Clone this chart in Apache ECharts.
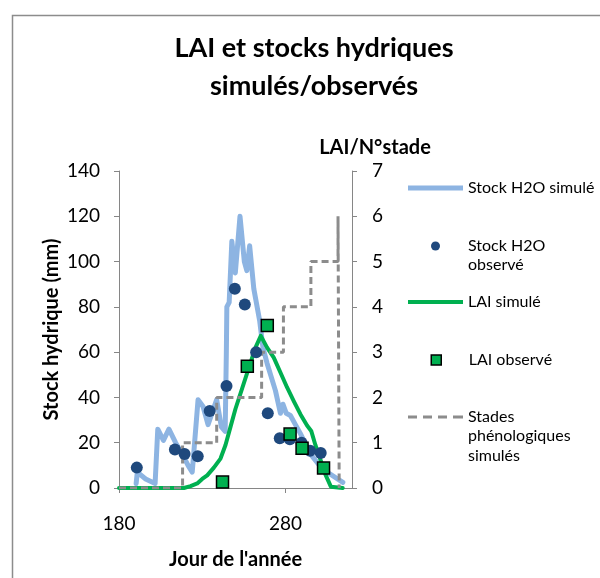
<!DOCTYPE html>
<html>
<head>
<meta charset="utf-8">
<script src="https://cdn.jsdelivr.net/npm/echarts@6/dist/echarts.min.js"></script>
<style>
html,body{margin:0;padding:0;background:#fff;}
#chart{width:600px;height:578px;}
</style>
</head>
<body>
<div id="chart"></div>
<script>
// ---- Data ----
const xTickLabels = [180, 280];
const leftTicks = [0, 20, 40, 60, 80, 100, 120, 140];
const rightTicks = [0, 1, 2, 3, 4, 5, 6, 7];

// Stock H2O simulé (mm)
const stockSimDays = [190.3, 191, 196, 201.7, 203.3, 206.7, 210, 214, 218, 221.5, 224, 227.5, 230.5, 233.5, 238.7, 241.5, 243.8, 244.5, 244.8, 246.2, 247.8, 249.9, 252.7, 255.3, 256.8, 258.5, 261, 264.5, 266.5, 269, 274, 277, 278.5, 280.5, 283, 286, 289, 295, 302, 314.5];
const stockSimValues = [2, 7, 4, 2, 26, 21, 26, 20, 15, 10, 7, 39, 36, 28, 39, 27, 25, 60, 80, 82, 109, 95, 120, 100, 96, 107, 88, 74, 62, 55, 43, 33, 37, 33, 32, 28, 24, 15, 8.5, 2.5];

// Stock H2O observé (mm)
const stockObsDays = [190.7, 213.6, 219.4, 227.3, 234.5, 244.6, 249.6, 255.6, 262.4, 269.4, 276.6, 282.7, 289.7, 294.8, 301.2];
const stockObsValues = [9, 17, 15, 14, 34, 45, 88, 81, 60, 33, 22, 21.5, 20, 16.5, 15.5];

// LAI simulé
const laiSimDays = [180, 219, 223, 227, 230, 233, 237, 241, 244, 247, 250, 254, 258, 262, 265.2, 269, 273, 277, 281, 285, 289, 293, 295.5, 298, 301.3, 304, 307.3, 314.4];
const laiSimValues = [0, 0, 0.04, 0.1, 0.2, 0.28, 0.45, 0.65, 0.95, 1.35, 1.75, 2.2, 2.65, 3.1, 3.36, 3.1, 2.88, 2.55, 2.22, 1.92, 1.63, 1.38, 1.26, 0.95, 0.6, 0.3, 0.03, 0];

// LAI observé
const laiObsDays = [242.2, 257.1, 269.1, 282.8, 290, 302.9];
const laiObsValues = [0.13, 2.69, 3.59, 1.19, 0.88, 0.44];

// Stades phénologiques simulés
const stadesDays = [180, 218.2, 218.2, 238.7, 238.7, 265.7, 265.7, 278.8, 278.8, 295.3, 295.3, 311.6, 311.6, 312.3];
const stadesValues = [0, 0, 1, 1, 2, 2, 3, 3, 4, 4, 5, 5, 6, 0];

const names = ['Stock H2O simulé', 'Stock H2O observé', 'LAI simulé', 'LAI observé', 'Stades phénologiques simulés'];

function pairs(xs, ys) { return xs.map((x, i) => [x, ys[i]]); }

const FONT = 'Lato';
const axisColor = '#868686';

const chart = echarts.init(document.getElementById('chart'), null, {renderer: 'canvas'});

function legendBlock(name, left, top, itemHeight, icon, firstLine, itemStyle) {
  return {
    show: true,
    orient: 'vertical',
    left: left,
    top: top,
    padding: 0,
    itemWidth: 55,
    itemHeight: itemHeight,
    itemGap: 0,
    data: [{name: name, icon: icon, itemStyle: itemStyle}],
    formatter: function () { return firstLine; },
    textStyle: {fontFamily: FONT, fontSize: 16, color: '#000', lineHeight: 20}
  };
}

const option = {
  animation: false,
  backgroundColor: '#fff',
  title: {
    text: 'LAI et stocks hydriques\nsimulés/observés',
    left: 309,
    top: 24,
    textAlign: 'center',
    textStyle: {fontFamily: FONT, fontSize: 27, fontWeight: 'bold', color: '#000', lineHeight: 38}
  },
  legend: [
    legendBlock(names[0], 408, 178, 5, 'path://M0,0h55v5h-55z', 'Stock H2O simulé', {color: '#8DB4E2', borderWidth: 0}),
    legendBlock(names[1], 431, 236, 9, 'path://M5,0A5,5,0,1,1,5,10A5,5,0,1,1,5,0z', 'Stock H2O', {color: '#1F497D', borderWidth: 0}),
    legendBlock(names[2], 408, 292, 4, 'path://M0,0h55v4h-55z', 'LAI simulé', {color: '#00B050', borderWidth: 0}),
    legendBlock(names[3], 430.5, 350, 10, 'path://M0,0h10v10h-10z', 'LAI observé', {color: '#00B050', borderColor: '#000', borderWidth: 1.5}),
    legendBlock(names[4], 408, 407, 3, 'path://M0,0h9v3h-9z M15,0h9v3h-9z M30,0h9v3h-9z M45,0h10v3h-10z', 'Stades', {color: '#8C8C8C', borderWidth: 0})
  ],
  graphic: [
    {type: 'rect', left: 10, top: 13, shape: {width: 700, height: 700}, style: {fill: 'none', stroke: '#8c8c8c', lineWidth: 1.5}, silent: true},
    {type: 'text', left: 468, top: 257, style: {text: 'observé', font: '16px Lato', fill: '#000'}},
    {type: 'text', left: 468, top: 428, style: {text: 'phénologiques', font: '16px Lato', fill: '#000'}},
    {type: 'text', left: 468, top: 448, style: {text: 'simulés', font: '16px Lato', fill: '#000'}}
  ],
  grid: {left: 119, right: 248, top: 171, bottom: 90, containLabel: false},
  xAxis: {
    type: 'value',
    min: 180,
    max: 320,
    name: 'Jour de l\'année',
    nameLocation: 'middle',
    nameGap: 62,
    nameTextStyle: {fontFamily: FONT, fontSize: 20, fontWeight: 'bold', color: '#000'},
    axisLine: {show: true, lineStyle: {color: axisColor, width: 1}},
    axisTick: {show: true, inside: false, length: 5, customValues: xTickLabels, lineStyle: {color: axisColor}},
    axisLabel: {show: true, margin: 26, customValues: xTickLabels, fontFamily: FONT, fontSize: 19, color: '#000'},
    splitLine: {show: false}
  },
  yAxis: [
    {
      type: 'value',
      position: 'left',
      min: 0,
      max: 140,
      interval: 20,
      name: 'Stock hydrique (mm)',
      nameLocation: 'middle',
      nameGap: 57,
      nameTextStyle: {fontFamily: FONT, fontSize: 20, fontWeight: 'bold', color: '#000'},
      axisLine: {show: true, lineStyle: {color: axisColor, width: 1}},
      axisTick: {show: true, inside: false, length: 5, lineStyle: {color: axisColor}},
      axisLabel: {margin: 19, fontFamily: FONT, fontSize: 19, color: '#000', customValues: leftTicks},
      splitLine: {show: false}
    },
    {
      type: 'value',
      position: 'right',
      min: 0,
      max: 7,
      interval: 1,
      name: 'LAI/N°stade',
      nameLocation: 'end',
      nameGap: 13,
      nameTextStyle: {fontFamily: FONT, fontSize: 20, fontWeight: 'bold', color: '#000', align: 'center', padding: [0, 0, 0, 46]},
      axisLine: {show: true, lineStyle: {color: axisColor, width: 1}},
      axisTick: {show: true, inside: false, length: 5, lineStyle: {color: axisColor}},
      axisLabel: {margin: 20, fontFamily: FONT, fontSize: 19, color: '#000', customValues: rightTicks},
      splitLine: {show: false}
    }
  ],
  series: [
    {
      name: names[0], type: 'line', yAxisIndex: 0, z: 2,
      data: pairs(stockSimDays, stockSimValues),
      showSymbol: false, symbol: 'none',
      lineStyle: {color: '#8DB4E2', width: 5, join: 'round', cap: 'round'},
      itemStyle: {color: '#8DB4E2'}
    },
    {
      name: names[2], type: 'line', yAxisIndex: 1, z: 3,
      data: pairs(laiSimDays, laiSimValues),
      showSymbol: false, symbol: 'none',
      lineStyle: {color: '#00B050', width: 4, join: 'round', cap: 'round'},
      itemStyle: {color: '#00B050'}
    },
    {
      name: names[4], type: 'line', yAxisIndex: 1, z: 4,
      data: pairs(stadesDays, stadesValues),
      showSymbol: false, symbol: 'none',
      lineStyle: {color: '#8C8C8C', width: 3, type: [7, 4]},
      itemStyle: {color: '#8C8C8C'}
    },
    {
      name: names[1], type: 'scatter', yAxisIndex: 0, z: 5,
      data: pairs(stockObsDays, stockObsValues),
      symbol: 'circle', symbolSize: 12,
      itemStyle: {color: '#1F497D', opacity: 1}
    },
    {
      name: names[3], type: 'scatter', yAxisIndex: 1, z: 6,
      data: pairs(laiObsDays, laiObsValues),
      symbol: 'rect', symbolSize: 12,
      itemStyle: {color: '#00B050', borderColor: '#000', borderWidth: 1.5, opacity: 1}
    }
  ]
};

chart.setOption(option);
</script>
</body>
</html>
